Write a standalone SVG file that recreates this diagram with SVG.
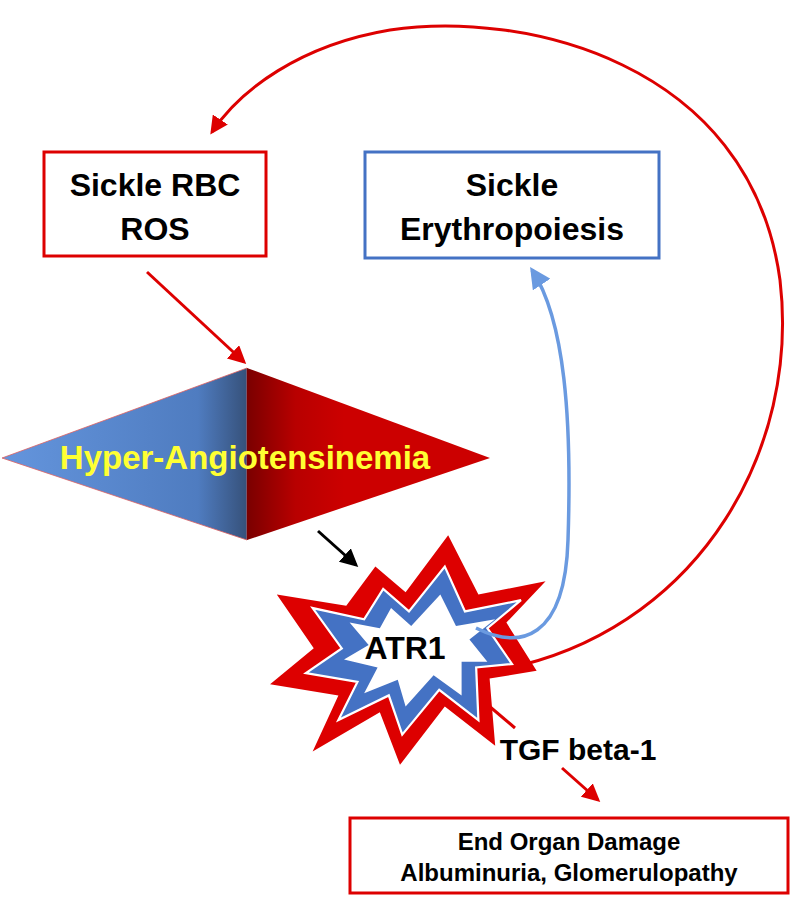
<svg xmlns="http://www.w3.org/2000/svg" width="796" height="900" viewBox="0 0 796 900">
<defs>
<linearGradient id="gb" x1="0" x2="1" y1="0" y2="0"><stop offset="0" stop-color="#6495dd"/><stop offset="0.8" stop-color="#4f7cc0"/><stop offset="1" stop-color="#36517a"/></linearGradient>
<linearGradient id="gr" x1="0" x2="1" y1="0" y2="0"><stop offset="0" stop-color="#7a0000"/><stop offset="0.2" stop-color="#b80000"/><stop offset="0.4" stop-color="#cc0000"/><stop offset="1" stop-color="#cc0000"/></linearGradient>
<marker id="ar" markerWidth="6" markerHeight="6" refX="5" refY="3" orient="auto" markerUnits="strokeWidth"><path d="M0,0 L6,3 L0,6 Z" fill="#dd0000"/></marker>
<marker id="ab" markerWidth="6" markerHeight="6" refX="5" refY="3" orient="auto" markerUnits="strokeWidth"><path d="M0,0 L6,3 L0,6 Z" fill="#6a9ae0"/></marker>
<marker id="ak" markerWidth="6" markerHeight="6" refX="5" refY="3" orient="auto" markerUnits="strokeWidth"><path d="M0,0 L6,3 L0,6 Z" fill="#000"/></marker>
</defs>
<style>
text{font-family:"Liberation Sans",Arial,sans-serif;font-weight:bold;text-anchor:middle}
.t{font-size:32px;fill:#000}
.s{font-size:24px;fill:#000}
</style>
<rect width="796" height="900" fill="#fff"/>
<g id="sickle-rbc">
<rect x="44" y="152" width="222" height="104" fill="#fff" stroke="#dd0000" stroke-width="3"/>
<text class="t" x="155" y="196">Sickle RBC</text>
<text class="t" x="155" y="240">ROS</text>
</g>
<g id="sickle-ery">
<rect x="365" y="152" width="294" height="106" fill="#fff" stroke="#4472c4" stroke-width="3"/>
<text class="t" x="512" y="196">Sickle</text>
<text class="t" x="512" y="240">Erythropoiesis</text>
</g>
<g id="hyper">
<polygon points="2,458 247,368 247,540" fill="url(#gb)" stroke="#e06060" stroke-width="0.8"/>
<polygon points="247,368 490,458 247,540" fill="url(#gr)"/>
<text x="245" y="469" style="font-size:33px;fill:#ffff33">Hyper-Angiotensinemia</text>
</g>
<g id="atr1" transform="translate(400,645) scale(1.12) translate(-400,-645)">
<polygon points="443,547 470,600 530,588 495,625 522,668 480,675 485,735 440,700 400,752 382,705 322,740 345,690 284,680 323,648 290,600 352,610 378,575 405,598" fill="#dd0000"/>
<polygon points="440,575 458,615 508,605 478,630 500,662 468,665 470,712 435,685 402,725 390,690 345,712 362,678 316,670 348,648 322,612 368,622 385,595 408,615" fill="#4472c4" stroke="#fff" stroke-width="2"/>
<polygon points="436,600 450,628 485,622 462,640 478,660 455,660 455,690 430,672 405,700 398,676 368,688 380,665 350,658 372,645 355,625 382,630 392,612 410,628" fill="#fff"/>
</g>
<g id="atr1-label"><text x="405" y="659" style="font-size:32px;fill:#000">ATR1</text></g>
<g id="connectors" fill="none">
<path d="M522,665 C700,620 800,450 780,280 C750,60 520,10 390,30 C300,45 240,90 212,132" stroke="#dd0000" stroke-width="3" marker-end="url(#ar)"/>
<path d="M476,628 C520,650 565,640 568,540 C572,420 565,320 532,270" stroke="#6a9ae0" stroke-width="3.5" marker-end="url(#ab)"/>
<line x1="147" y1="272" x2="244" y2="362" stroke="#dd0000" stroke-width="3" marker-end="url(#ar)"/>
<line x1="318" y1="531" x2="356" y2="565" stroke="#000" stroke-width="3" marker-end="url(#ak)"/>
<line x1="482" y1="700" x2="515" y2="728" stroke="#dd0000" stroke-width="3"/>
<line x1="562" y1="768" x2="598" y2="800" stroke="#dd0000" stroke-width="3" marker-end="url(#ar)"/>
</g>
<g id="tgf"><text class="t" x="578" y="760" style="font-size:30px">TGF beta-1</text></g>
<g id="end-organ">
<rect x="350" y="818" width="438" height="75" fill="#fff" stroke="#dd0000" stroke-width="3"/>
<text class="s" x="569" y="850">End Organ Damage</text>
<text class="s" x="569" y="881">Albuminuria, Glomerulopathy</text>
</g>
</svg>
